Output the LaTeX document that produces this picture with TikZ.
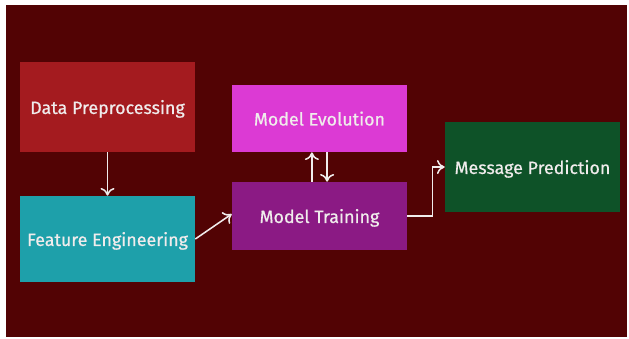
\documentclass[tikz,border=0pt]{standalone}
\usepackage{fontspec}
\setmainfont{Fira Sans}
\usetikzlibrary{arrows.meta}

\definecolor{bgred}{HTML}{520304}
\definecolor{prepred}{HTML}{A41B1F}
\definecolor{featteal}{HTML}{1EA0AA}
\definecolor{evolpink}{HTML}{DC3AD4}
\definecolor{trainpurple}{HTML}{8B1A84}
\definecolor{predgreen}{HTML}{0E5228}
\definecolor{arrowwhite}{HTML}{F0ECEC}

\begin{document}
\begin{tikzpicture}[x=0.025cm, y=-0.025cm,
    stage/.style={minimum width=4.375cm, inner sep=0pt, text=arrowwhite, text depth=0pt,
                  font=\fontsize{12.7}{14}\selectfont\addfontfeature{FakeBold=0.6}},
    flow/.style={draw=arrowwhite, line width=1.1pt, -{To[length=5.5pt, width=10pt]}}]

\useasboundingbox (0,0) rectangle (629,338);
\fill[white] (0,0) rectangle (629,338);
\fill[bgred] (6,5) rectangle (627,337);

\node (prep) at (107.5, 107) [stage, fill=prepred, minimum height=2.25cm] {Data Preprocessing};
\node (feat) at (107.5, 239) [stage, fill=featteal, minimum height=2.15cm] {Feature Engineering};
\node (evol) at (319.5, 118.5) [stage, fill=evolpink, minimum height=1.675cm] {Model Evolution};
\node (train) at (319.5, 216) [stage, fill=trainpurple, minimum height=1.7cm] {Model Training};
\node (pred) at (532.5, 167) [stage, fill=predgreen, minimum height=2.25cm] {Message Prediction};

\draw [flow] (prep) -- (feat);
\draw [flow] (feat.east) -- ([yshift=0.05cm]train.west);

\draw [flow] ([xshift=-0.19cm]train.north) -- ([xshift=-0.19cm]evol.south);
\draw [flow] ([xshift=0.19cm]evol.south) -- ([xshift=0.19cm]train.north);

\draw [flow] (train.east) -- ++(25,0) |- (pred.west);

\end{tikzpicture}
\end{document}
